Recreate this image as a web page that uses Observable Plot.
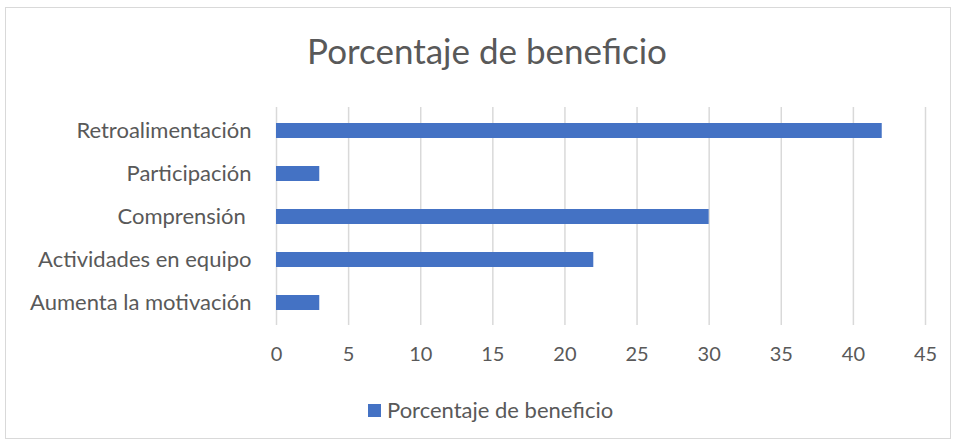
<!DOCTYPE html>
<html>
<head>
<meta charset="utf-8">
<script src="https://cdn.jsdelivr.net/npm/d3@7"></script>
<script src="https://cdn.jsdelivr.net/npm/@observablehq/plot@0.6"></script>
<style>
  html, body { margin: 0; padding: 0; background: #fff; }
  #wrap { position: relative; width: 954px; height: 443px; overflow: hidden; font-family: Lato, "Open Sans", sans-serif; color: #595959; }
  #frame { position: absolute; left: 5px; top: 7px; width: 946px; height: 432px; border: 1px solid #d9d9d9; box-sizing: border-box; }
  #title { position: absolute; left: 0; width: 974px; top: 28px; text-align: center; font-size: 35px; line-height: 44px; }
  #chart { position: absolute; left: 0; top: 100px; }
  #legend { position: absolute; left: 368px; top: 397px; font-size: 22px; line-height: 26px; display: flex; align-items: center; }
  #legend .sw { width: 13px; height: 13px; background: #4472C4; margin-right: 6px; }
</style>
</head>
<body>
<div id="wrap">
  <div id="frame"></div>
  <div id="title">Porcentaje de beneficio</div>
  <div id="chart"></div>
  <div id="legend"><span class="sw"></span><span>Porcentaje de beneficio</span></div>
</div>
<script>
const categories = ["Retroalimentación", "Participación", "Comprensión ", "Actividades en equipo", "Aumenta la motivación"];
const values = [42, 3, 30, 22, 3];
const xTicks = [0, 5, 10, 15, 20, 25, 30, 35, 40, 45];
const seriesName = "Porcentaje de beneficio";

const data = categories.map((c, i) => ({category: c, value: values[i]}));

const plot = Plot.plot({
  width: 954,
  height: 270,
  marginTop: 7,
  marginBottom: 45,
  marginLeft: 276,
  marginRight: 29,
  style: { fontFamily: "Lato, 'Open Sans', sans-serif", fontSize: "20px", color: "#595959", background: "transparent" },
  x: { domain: [0, 45], ticks: xTicks, label: null },
  y: { domain: categories, label: null, paddingInner: 0.655, paddingOuter: 0.3275 },
  marks: [
    Plot.ruleX(xTicks, { stroke: "#d9d9d9", strokeWidth: 1.5, strokeOpacity: 1 }),
    Plot.barX(data, { x: "value", y: "category", fill: "#4472C4" }),
    Plot.axisX({ ticks: xTicks, tickSize: 0, tickPadding: 21, fontSize: 20, fill: "#595959", label: null }),
    Plot.axisY({ tickSize: 0, tickPadding: 25, fontSize: 22, fill: "#595959", label: null })
  ]
});
document.getElementById("chart").appendChild(plot);
</script>
</body>
</html>
